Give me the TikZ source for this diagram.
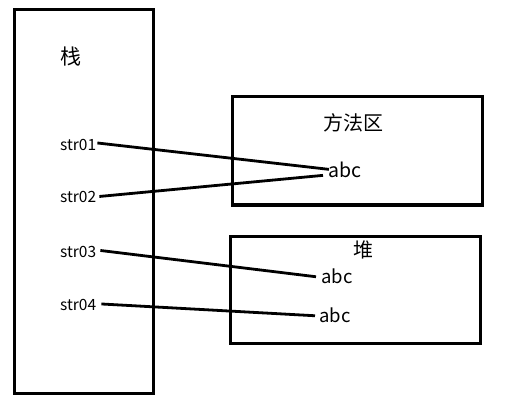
\documentclass[tikz,border=0pt]{standalone}
\usepackage{fontspec}
\setmainfont{Noto Sans CJK SC}
\usetikzlibrary{calc}
\begin{document}
\begin{tikzpicture}[x=1pt,y=-1pt,
  box/.style={draw, line width=3pt, inner sep=0pt},
  lbl/.style={inner sep=0pt, anchor=base west, font=\fontsize{15.5}{15}\selectfont},
  val/.style={inner sep=0pt, anchor=base west, font=\fontsize{18.5}{18}\selectfont},
  ttl/.style={inner sep=0pt, font=\fontsize{20}{20}\selectfont},
  link/.style={line width=2.8pt}]
\useasboundingbox (0,0) rectangle (509,409);
\node[box, minimum width=139pt, minimum height=383pt] (stack) at (83.5,201.5) {};
\node[box, minimum width=250pt, minimum height=108pt] (method) at (357,151) {};
\node[box, minimum width=250pt, minimum height=107pt] (heap) at (355,289.5) {};
\node[ttl, font=\fontsize{21}{21}\selectfont] (stitle) at (71,57) {栈};
\node[ttl] (mtitle) at (353,123) {方法区};
\node[ttl] (htitle) at (363,250) {堆};
\node[lbl] (s1) at (60,150.5) {str01};
\node[lbl] (s2) at (60,203) {str02};
\node[lbl] (s3) at (60,257) {str03};
\node[lbl] (s4) at (60,310.5) {str04};
\node[val, font=\fontsize{19.5}{19}\selectfont] (m) at (328,178) {abc};
\node[val] (h1) at (321,283) {abc};
\node[val] (h2) at (319,322) {abc};
\draw[link] ($(s1.east)+(1,-2)$) -- ($(m.west)+(1,-1)$);
\draw[link] ($(s2.east)+(3,-1)$) -- ($(m.west)+(-5,5)$);
\draw[link] ($(s3.east)+(4,-1)$) -- ($(h1.west)+(-5,1)$);
\draw[link] ($(s4.east)+(5,-1)$) -- ($(h2.west)+(-4,1)$);
\end{tikzpicture}
\end{document}
